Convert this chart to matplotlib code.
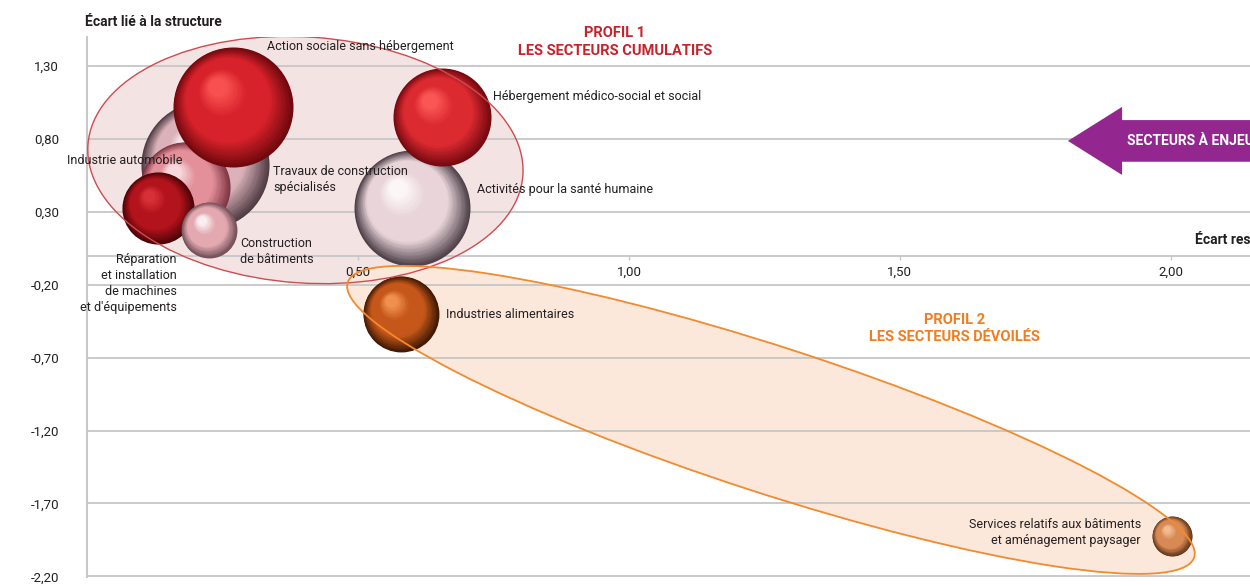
#!/usr/bin/env python3
# -*- coding: utf-8 -*-
# Graphique à bulles : écart lié à la structure / écart restant
import numpy as np
import matplotlib
matplotlib.use('Agg')
import matplotlib.pyplot as plt
from matplotlib.colors import to_rgb
from matplotlib.patches import Ellipse, FancyArrowPatch
from matplotlib.transforms import ScaledTranslation, offset_copy

plt.rcParams['font.family'] = ['Roboto', 'DejaVu Sans']

# données (dans l'ordre de tracé)
secteurs = ['Travaux de construction\nspécialisés',
            'Industrie automobile',
            'Action sociale sans hébergement',
            'Réparation\net installation\nde machines\net d\'équipements',
            'Construction\nde bâtiments',
            'Activités pour la santé humaine',
            'Hébergement médico-social et social',
            'Industries alimentaires',
            'Services relatifs aux bâtiments\net aménagement paysager']
ecart_restant = [0.218, 0.181, 0.269, 0.131, 0.225, 0.600, 0.655, 0.579, 2.002]
ecart_structure = [0.622, 0.471, 1.020, 0.327, 0.176, 0.327, 0.950, -0.400, -1.924]
poids = [41.0, 20.3, 36.0, 13.0, 7.8, 33.6, 24.0, 14.4, 4.0]

yticks = [1.30, 0.80, 0.30, -0.20, -0.70, -1.20, -1.70, -2.20]
xticks = [0.50, 1.00, 1.50, 2.00]

# couleurs (ombre, base, reflet)
couleurs = [('#4e3a42', '#dbb2ba', '#f6e6e8'),
            ('#7a3440', '#e4909a', '#f8d8dc'),
            ('#6e080d', '#d8222b', '#f85050'),
            ('#4a0407', '#b3131c', '#d83038'),
            ('#6e4c54', '#e3a8b0', '#fbeef0'),
            ('#4c3e46', '#e8d4d9', '#fdf6f7'),
            ('#72090f', '#dc2a31', '#fa5656'),
            ('#3e1804', '#c5571a', '#f0904f'),
            ('#5e3418', '#d88a55', '#f3bb90')]

# position des étiquettes (décalage en pixels par rapport au centre)
decalages = [(68, 15, 'left'), (-118, -26, 'left'), (34, -60, 'left'),
             (19, 76, 'right'), (31, 22, 'left'), (65, -18, 'left'),
             (51, -21, 'left'), (45, 1, 'left'), (-31, -4, 'right')]

TXT = '#231f20'
GRIS = '#c6c6c6'

fig = plt.figure(figsize=(12.5, 5.86), dpi=100)
ax = fig.add_axes([87 / 1250, 9 / 586, 1 - 87 / 1250, 540 / 586])
ax.set_xlim(0, 2.146)
ax.set_ylim(-2.205, 1.50)


def grad(t, dark, base, light):
    pts = [0.0, 0.35, 0.7, 1.0]
    cols = [to_rgb(dark), to_rgb(base), to_rgb(base), to_rgb(light)]
    return tuple(np.interp(t, pts, [c[k] for c in cols]) for k in range(3))


def sphere(x, y, s, dark, base, light, z):
    R = np.sqrt(s) / 2
    n = 60
    for i in range(n):
        t = i / (n - 1)
        f = 1 - 0.85 * t
        off = 0.5 * R * (1 - f)
        tr = offset_copy(ax.transData, fig=fig, x=-off * 0.6, y=off * 0.8, units='points')
        ax.scatter([x], [y], s=s * f * f, color=grad(t, dark, base, light),
                   transform=tr, lw=0, zorder=z)


def ellipse(cx, cy, w, h, angle, **kw):
    tr = fig.dpi_scale_trans + ScaledTranslation(cx, cy, ax.transData)
    return Ellipse((0, 0), w / 100, h / 100, angle=angle, transform=tr, **kw)


# groupes
ax.add_patch(ellipse(0.403, 0.656, 436, 246, -4, fc='#f4e3e3', ec='none', zorder=1))
ax.add_patch(ellipse(1.262, -1.127, 890, 146, -18, fc='#fce8da', ec='none', zorder=1))
ax.add_patch(ellipse(0.403, 0.656, 436, 246, -4, fc='none', ec='#cf4b50', lw=1.0, zorder=10))
ax.add_patch(ellipse(1.262, -1.127, 890, 146, -18, fc='none', ec='#f28a2e', lw=1.3, zorder=10))

# bulles
for i in range(len(secteurs)):
    s = poids[i] * 207.4
    sphere(ecart_restant[i], ecart_structure[i], s, *couleurs[i], z=3 + i * 0.1)
    dx, dy, ha = decalages[i]
    ax.annotate(secteurs[i], (ecart_restant[i], ecart_structure[i]),
                xytext=(dx * 0.72, -dy * 0.72), textcoords='offset points',
                ha=ha, va='center', fontsize=9, color=TXT, zorder=12,
                linespacing=1.3, multialignment=ha)

# axes
for side in ['top', 'right']:
    ax.spines[side].set_visible(False)
ax.spines['left'].set_color('#c8c8c8')
ax.spines['left'].set_linewidth(1.5)
ax.spines['bottom'].set_position(('data', 0))
ax.spines['bottom'].set_color(GRIS)
ax.spines['bottom'].set_linewidth(1.3)
ax.set_yticks(yticks)
ax.set_yticklabels([f'{v:.2f}'.replace('.', ',') for v in yticks])
ax.yaxis.grid(True, color=GRIS, lw=1.3)
ax.tick_params(axis='y', length=0, pad=20, labelsize=9.5, labelcolor=TXT)
ax.set_xticks(xticks)
ax.set_xticklabels([f'{v:.2f}'.replace('.', ',') for v in xticks])
ax.tick_params(axis='x', length=3, width=1, color=GRIS, pad=4, labelsize=9.5,
               labelcolor=TXT, direction='out')
ax.set_axisbelow(False)

# titres d'axes
fig.text(85 / 1250, 1 - 22 / 586, 'Écart lié à la structure', fontsize=10,
         fontweight='bold', color=TXT, ha='left', va='center')
ax.text(2.044, 0.108, 'Écart restant', fontsize=10, fontweight='bold',
        color=TXT, ha='left', va='center')

# profils
ax.text(0.974, 1.466, 'PROFIL 1\nLES SECTEURS CUMULATIFS', fontsize=10.5,
        fontweight='bold', color='#c8232c', ha='center', va='center', linespacing=1.3)
ax.text(1.601, -0.50, 'PROFIL 2\nLES SECTEURS DÉVOILÉS', fontsize=10.5,
        fontweight='bold', color='#f07d1e', ha='center', va='center', linespacing=1.3)

# flèche
fl = FancyArrowPatch((2.5, 0.787), (1.81, 0.787), mutation_scale=10,
                     arrowstyle='simple,head_length=3.9,head_width=4.9,tail_width=3.0',
                     fc='#93278f', ec='none', shrinkA=0, shrinkB=0, zorder=11)
ax.add_patch(fl)
ax.text(1.919, 0.787, 'SECTEURS À ENJEUX', fontsize=10, fontweight='bold',
        color='white', ha='left', va='center', zorder=12)

fig.savefig('out.png', dpi=100)
